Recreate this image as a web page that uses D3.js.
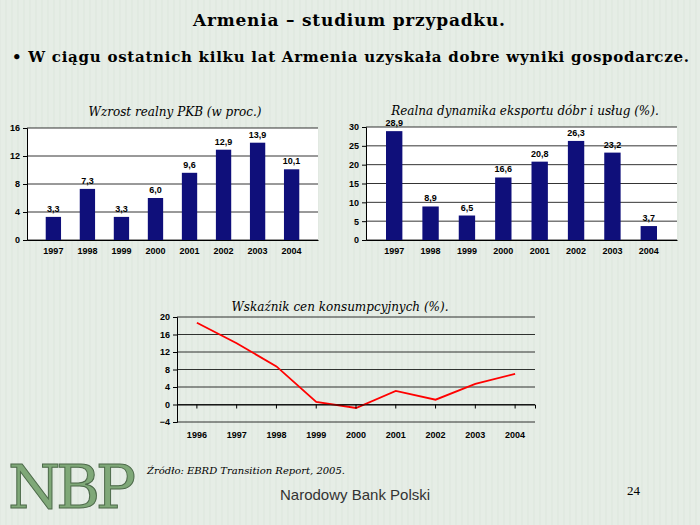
<!DOCTYPE html><html><head><meta charset="utf-8"><script src="https://cdn.jsdelivr.net/npm/d3@7"></script>
<style>body{margin:0}svg{display:block}</style></head><body><svg id="s" width="700" height="525"></svg>
<script>
const years8=["1997","1998","1999","2000","2001","2002","2003","2004"];
const gdp=[3.3,7.3,3.3,6.0,9.6,12.9,13.9,10.1];
const exportsG=[28.9,8.9,6.5,16.6,20.8,26.3,23.2,3.7];
const years9=["1996","1997","1998","1999","2000","2001","2002","2003","2004"];
const cpi=[18.7,14.0,8.7,0.6,-0.8,3.1,1.1,4.7,7.0];
const gdpTicks=[0,4,8,12,16], expTicks=[0,5,10,15,20,25,30], cpiTicks=[-4,0,4,8,12,16,20];

const svg=d3.select("#s");
svg.append("rect").attr("width",700).attr("height",525).attr("fill","#e6ede6");
for(let x=0;x<700;x+=6) svg.append("line").attr("x1",x).attr("x2",x).attr("y1",0).attr("y2",525).attr("stroke","#dde6dd").attr("stroke-width",1);
const serif="'DejaVu Serif',serif";
svg.append("text").attr("x",193).attr("y",26).attr("font-family",serif).attr("font-weight","bold").attr("font-size",17).attr("textLength",312).text("Armenia – studium przypadku.");
svg.append("text").attr("x",12).attr("y",62).attr("font-family",serif).attr("font-weight","bold").attr("font-size",15).attr("textLength",677).text("• W ciągu ostatnich kilku lat Armenia uzyskała dobre wyniki gospodarcze.");

function axisStyle(g){g.selectAll("text").attr("font-family","Arial,'Liberation Sans'").attr("font-weight","bold").attr("font-size",9).attr("fill","#000");g.selectAll("path,line").attr("stroke","#000");}

function barChart(x0,x1,y0,y1,cats,vals,ticks,title,tx){
  const x=d3.scaleBand().domain(cats).range([x0,x1]).padding(0.55);
  const y=d3.scaleLinear().domain([0,ticks[ticks.length-1]]).range([y1,y0]);
  svg.append("rect").attr("x",x0).attr("y",y0).attr("width",x1-x0).attr("height",y1-y0).attr("fill","#fff");
  ticks.forEach(t=>svg.append("line").attr("x1",x0).attr("x2",x1).attr("y1",y(t)).attr("y2",y(t)).attr("stroke","#000").attr("stroke-width",0.8));
  svg.selectAll(null).data(vals).enter().append("rect").attr("x",(d,i)=>x(cats[i])).attr("width",x.bandwidth()).attr("y",d=>y(d)).attr("height",d=>y1-y(d)).attr("fill","#0f0f7a");
  svg.selectAll(null).data(vals).enter().append("text").attr("x",(d,i)=>x(cats[i])+x.bandwidth()/2).attr("y",d=>y(d)-5).attr("text-anchor","middle").attr("font-family","Arial").attr("font-weight","bold").attr("font-size",9).text(d=>d.toFixed(1).replace(".",","));
  svg.append("g").attr("transform",`translate(${x0},0)`).call(d3.axisLeft(y).tickValues(ticks).tickSize(4)).call(axisStyle);
  svg.append("g").attr("transform",`translate(0,${y1})`).call(d3.axisBottom(x).tickSize(0).tickPadding(8)).call(axisStyle);
  svg.append("text").attr("x",tx).attr("y",y0-12).attr("text-anchor","middle").attr("font-family",serif).attr("font-style","italic").attr("font-size",12).text(title);
}
barChart(27,318,128,240,years8,gdp,gdpTicks,"Wzrost realny PKB (w proc.)",175);
barChart(366,677,127,240,years8,exportsG,expTicks,"Realna dynamika eksportu dóbr i usług (%).",525);

const x0=177,x1=535,y0=317,y1=422;
const xb=d3.scaleBand().domain(years9).range([x0,x1]);
const y=d3.scaleLinear().domain([-4,20]).range([y1,y0]);
cpiTicks.forEach(t=>svg.append("line").attr("x1",x0).attr("x2",x1).attr("y1",y(t)).attr("y2",y(t)).attr("stroke","#000").attr("stroke-width",0.8));
svg.append("path").datum(cpi).attr("fill","none").attr("stroke","#ff0000").attr("stroke-width",1.8)
 .attr("d",d3.line().x((d,i)=>xb(years9[i])+xb.bandwidth()/2).y(d=>y(d)));
svg.append("g").attr("transform",`translate(${x0},0)`).call(d3.axisLeft(y).tickValues(cpiTicks).tickSize(4)).call(axisStyle);
const xa=svg.append("g").attr("transform",`translate(0,${y(0)})`).call(d3.axisBottom(xb).tickSize(4).tickFormat(""));
xa.selectAll("path,line").attr("stroke","#000");
svg.append("g").attr("transform",`translate(0,${y1})`).call(d3.axisBottom(xb).tickSize(0).tickPadding(10)).call(axisStyle).select("path").remove();
svg.append("text").attr("x",340).attr("y",311).attr("text-anchor","middle").attr("font-family",serif).attr("font-style","italic").attr("font-size",12).text("Wskaźnik cen konsumpcyjnych (%).");

svg.append("text").attr("x",8).attr("y",508).attr("font-family",serif).attr("font-size",60).attr("fill","#7fa878").attr("stroke","#4d6a4a").attr("stroke-width",1).attr("textLength",128).text("NBP");
svg.append("text").attr("x",147).attr("y",474).attr("font-family",serif).attr("font-style","italic").attr("font-size",10).text("Źródło: EBRD Transition Report, 2005.");
svg.append("text").attr("x",280).attr("y",500).attr("font-family","Arial,'Liberation Sans'").attr("font-size",15).attr("fill","#333").text("Narodowy Bank Polski");
svg.append("text").attr("x",627).attr("y",495).attr("font-family","'Liberation Serif',serif").attr("font-size",13).text("24");
</script></body></html>
